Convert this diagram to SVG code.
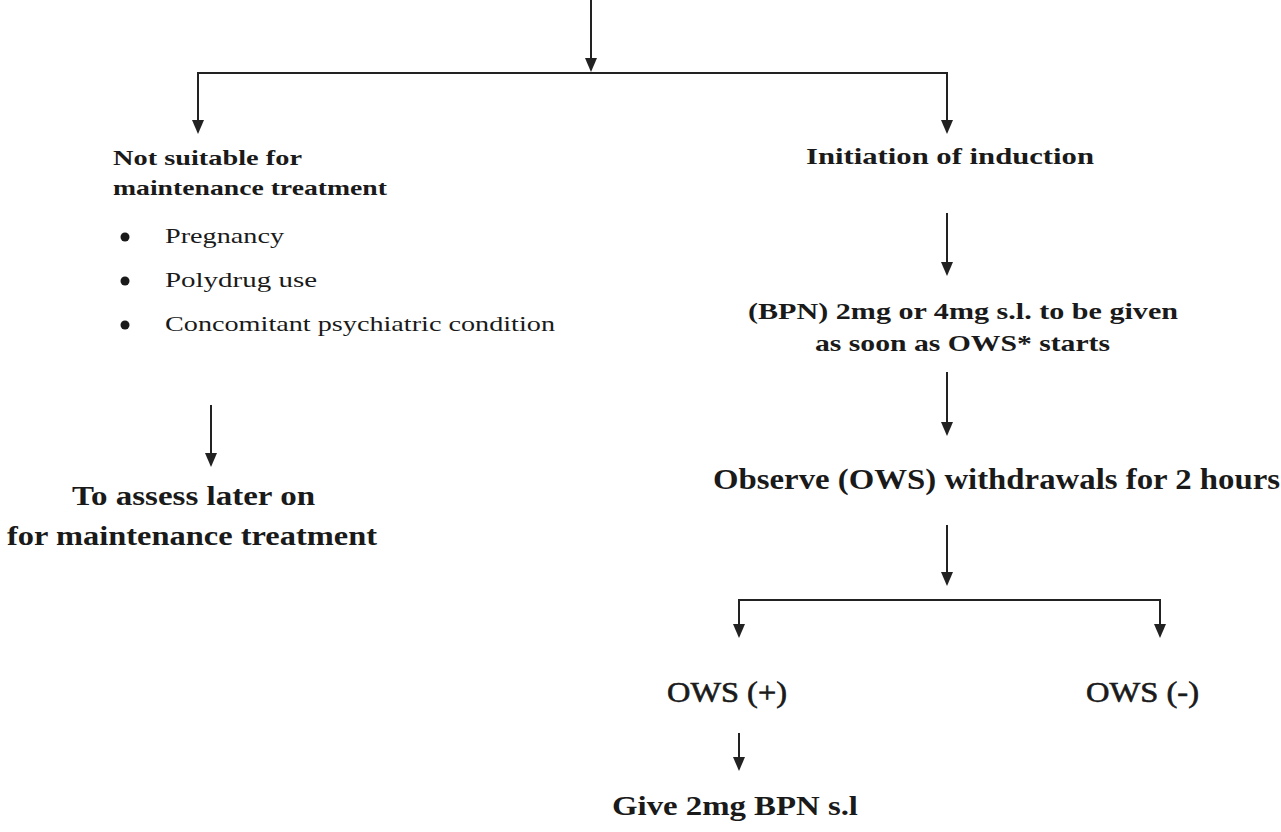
<svg xmlns="http://www.w3.org/2000/svg" width="1281" height="832" viewBox="0 0 1281 832">
<style>
.ln{stroke:#222;stroke-width:2;fill:none}
.ah{fill:#222}
.t{font-family:"Liberation Serif","Times New Roman",serif;fill:#1a1a1a}
.b{font-weight:bold}
.m{stroke:#1a1a1a;stroke-width:0.6}
</style>
<rect width="1281" height="832" fill="#fff"/>
<g id="connectors">
<path class="ln" d="M591,0 V60"/>
<path class="ah" d="M585,58 L597,58 L591,72 Z"/>
<path class="ln" d="M198,122 V73 H947 V122"/>
<path class="ah" d="M192,120 L204,120 L198,134 Z"/>
<path class="ah" d="M941,120 L953,120 L947,134 Z"/>
<path class="ln" d="M947,213 V264"/>
<path class="ah" d="M941,262 L953,262 L947,276 Z"/>
<path class="ln" d="M947,372 V424"/>
<path class="ah" d="M941,422 L953,422 L947,436 Z"/>
<path class="ln" d="M947,525 V574"/>
<path class="ah" d="M941,572 L953,572 L947,586 Z"/>
<path class="ln" d="M211,405 V455"/>
<path class="ah" d="M205,453 L217,453 L211,467 Z"/>
<path class="ln" d="M739,626 V600 H1160 V626"/>
<path class="ah" d="M733,624 L745,624 L739,638 Z"/>
<path class="ah" d="M1154,624 L1166,624 L1160,638 Z"/>
<path class="ln" d="M739,733 V759"/>
<path class="ah" d="M733,757 L745,757 L739,771 Z"/>
</g>
<g id="not-suitable">
<text class="t b" x="113" y="165" font-size="21" textLength="189" lengthAdjust="spacingAndGlyphs">Not suitable for</text>
<text class="t b" x="113" y="195" font-size="21" textLength="274" lengthAdjust="spacingAndGlyphs">maintenance treatment</text>
<circle cx="125" cy="237" r="4.5" fill="#1a1a1a"/>
<circle cx="125" cy="281" r="4.5" fill="#1a1a1a"/>
<circle cx="125" cy="325" r="4.5" fill="#1a1a1a"/>
<text class="t" x="165" y="243" font-size="22" textLength="119" lengthAdjust="spacingAndGlyphs">Pregnancy</text>
<text class="t" x="165" y="287" font-size="22" textLength="152" lengthAdjust="spacingAndGlyphs">Polydrug use</text>
<text class="t" x="165" y="331" font-size="22" textLength="390" lengthAdjust="spacingAndGlyphs">Concomitant psychiatric condition</text>
</g>
<g id="assess-later">
<text class="t b" x="72" y="505" font-size="27" textLength="243" lengthAdjust="spacingAndGlyphs">To assess later on</text>
<text class="t b" x="7" y="545" font-size="27" textLength="370" lengthAdjust="spacingAndGlyphs">for maintenance treatment</text>
</g>
<g id="initiation">
<text class="t b" x="806" y="164" font-size="24" textLength="288" lengthAdjust="spacingAndGlyphs">Initiation of induction</text>
</g>
<g id="bpn-dose">
<text class="t b" x="748" y="319" font-size="24" textLength="430" lengthAdjust="spacingAndGlyphs">(BPN) 2mg or 4mg s.l. to be given</text>
<text class="t b" x="815" y="351" font-size="24" textLength="295" lengthAdjust="spacingAndGlyphs">as soon as OWS* starts</text>
</g>
<g id="observe">
<text class="t b" x="713" y="489" font-size="29" textLength="567" lengthAdjust="spacingAndGlyphs">Observe (OWS) withdrawals for 2 hours</text>
</g>
<g id="ows-plus">
<text class="t m" x="667" y="702" font-size="29" textLength="120" lengthAdjust="spacingAndGlyphs">OWS (+)</text>
</g>
<g id="ows-minus">
<text class="t m" x="1086" y="702" font-size="29" textLength="113" lengthAdjust="spacingAndGlyphs">OWS (-)</text>
</g>
<g id="give-2mg">
<text class="t b" x="612" y="815" font-size="28" textLength="246" lengthAdjust="spacingAndGlyphs">Give 2mg BPN s.l</text>
</g>
</svg>
